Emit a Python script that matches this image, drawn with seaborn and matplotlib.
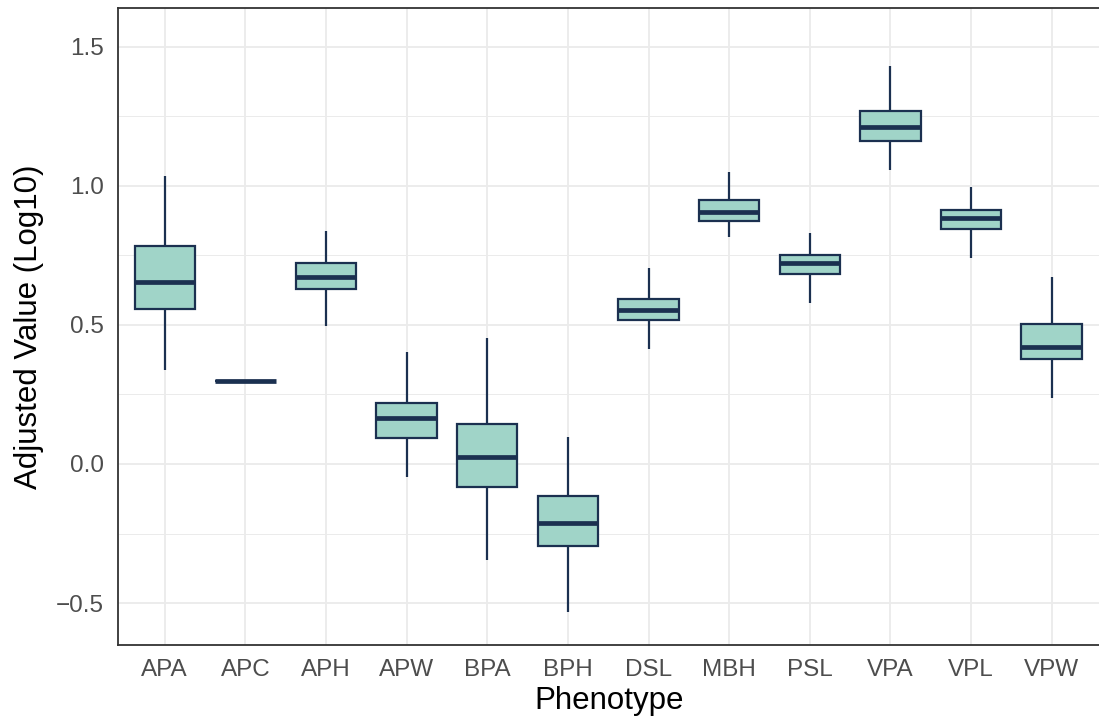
import matplotlib
matplotlib.use("Agg")
import matplotlib.pyplot as plt
import seaborn as sns
import pandas as pd
from matplotlib.ticker import MultipleLocator

# Five-number summaries: whisker low, Q1, median, Q3, whisker high
phenotypes = ['APA', 'APC', 'APH', 'APW', 'BPA', 'BPH', 'DSL', 'MBH', 'PSL', 'VPA', 'VPL', 'VPW']
low = [0.338, 0.300, 0.496, -0.047, -0.345, -0.532, 0.414, 0.817, 0.579, 1.058, 0.741, 0.237]
q1 = [0.558, 0.300, 0.629, 0.094, -0.083, -0.295, 0.518, 0.874, 0.683, 1.162, 0.845, 0.378]
median = [0.655, 0.300, 0.673, 0.165, 0.025, -0.212, 0.554, 0.906, 0.723, 1.212, 0.885, 0.421]
q3 = [0.784, 0.300, 0.723, 0.219, 0.144, -0.115, 0.594, 0.950, 0.752, 1.270, 0.914, 0.504]
high = [1.036, 0.300, 0.838, 0.403, 0.453, 0.097, 0.705, 1.050, 0.831, 1.432, 0.996, 0.673]

# long table, one row per summary value
rows = []
for i, p in enumerate(phenotypes):
    for v in (low[i], q1[i], median[i], q3[i], high[i]):
        rows.append({'Phenotype': p, 'value': v})
df = pd.DataFrame(rows)

sns.set_theme(style="white")
plt.rcParams['font.family'] = ['Liberation Sans', 'DejaVu Sans']

fill = '#a0d4c8'
edge = '#1b3050'

fig = plt.figure(figsize=(10.99, 7.23), dpi=100)
ax = fig.add_axes([118 / 1099, 1 - 645 / 723, 982 / 1099, 637 / 723])

sns.boxplot(data=df, x='Phenotype', y='value', order=phenotypes, whis=(0, 100),
            width=0.75, color=fill, linecolor=edge, linewidth=1.6,
            saturation=1, showfliers=False,
            medianprops=dict(linewidth=3.4, color=edge, solid_capstyle='butt'),
            capprops=dict(linewidth=0), ax=ax, zorder=3)

ax.set_xlim(-0.58, 11.6)
ax.set_ylim(-0.651, 1.640)
ax.yaxis.set_major_locator(MultipleLocator(0.5))
ax.yaxis.set_minor_locator(MultipleLocator(0.25))
ax.set_yticks([-0.5, 0.0, 0.5, 1.0, 1.5])
ax.set_yticklabels(['\u22120.5', '0.0', '0.5', '1.0', '1.5'])

ax.grid(True, which='major', color='#ebebeb', linewidth=1.3, zorder=0)
ax.grid(True, which='minor', axis='y', color='#ebebeb', linewidth=0.7, zorder=0)
ax.set_axisbelow(True)

for s in ax.spines.values():
    s.set_color('#333333')
    s.set_linewidth(1.3)

ax.tick_params(axis='both', which='major', direction='out', length=6, width=1.3,
               color='#333333', labelcolor='#4d4d4d', labelsize=17.5, pad=4)
ax.tick_params(axis='y', which='minor', length=0)

ax.set_xlabel('Phenotype', fontsize=22.5, color='black', labelpad=4)
ax.set_ylabel('Adjusted Value (Log10)', fontsize=22.5, color='black', labelpad=9)

fig.savefig('out.png', dpi=100)
